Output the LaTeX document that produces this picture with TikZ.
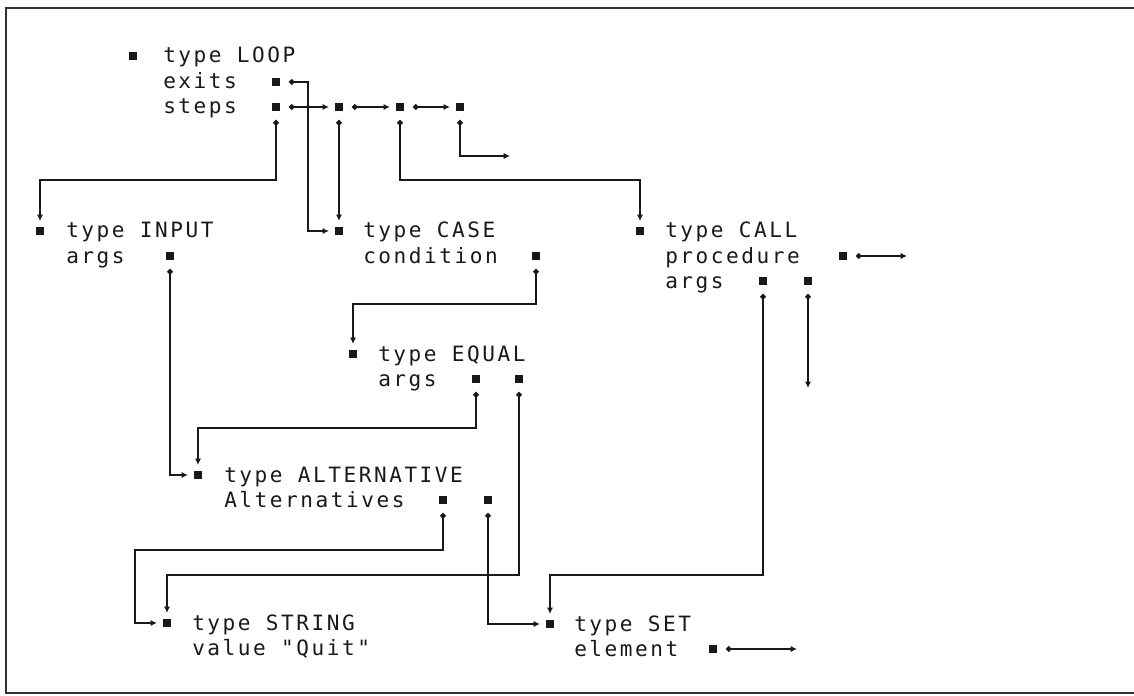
\documentclass[tikz,border=0pt]{standalone}
\usepackage{fontspec}
\newfontfamily\plotfont[LetterSpace=12]{DejaVu Sans Mono}
\usetikzlibrary{positioning,arrows.meta}

\begin{document}
\begin{tikzpicture}[
      x=0.025cm, y=-0.025cm,
      font=\plotfont\fontsize{15}{18}\selectfont,
      ptrcell/.style={fill=black!90, inner sep=0pt, minimum size=6pt},
      lbl/.style={anchor=base west, inner sep=0pt, text=black!90},
      fld/.style={lbl, below=17.8pt of #1, anchor=base west},
      ptr/.style={draw=black!90, line width=1.3pt, {Circle[length=4pt]}-{Latex[length=4.5pt,width=4.5pt]}, shorten <=6pt, shorten >=4pt},
      nilptr/.style={ptr, shorten >=0pt}
  ]
    \useasboundingbox (0,0) rectangle (1134,696);
    \draw[line width=1.8pt, black!80] (1134,8) -- (6,8) -- (6,693) -- (1134,693);

    % LOOP
    \node[ptrcell] (loopM) at (133,56) {};
    \node[lbl] (loopT) at (163,63) {type LOOP};
    \node[fld=loopT.base west] (exitsT) {exits};
    \node[fld=exitsT.base west] (stepsT) {steps};
    \node[ptrcell] (exitsM) at (276,82) {};
    \node[ptrcell] (stepsM) at (276,107) {};
    \node[ptrcell] (s2) at (339,107) {};
    \node[ptrcell] (s3) at (400,107) {};
    \node[ptrcell] (s4) at (460,107) {};
    \coordinate (s4nil) at (510,156);

    % INPUT
    \node[ptrcell] (inputM) at (40,231) {};
    \node[lbl] (inputT) at (66,238) {type INPUT};
    \node[fld=inputT.base west] (inArgsT) {args};
    \node[ptrcell] (inArgsM) at (170,256) {};

    % CASE
    \node[ptrcell] (caseM) at (339,231) {};
    \node[lbl] (caseT) at (363,238) {type CASE};
    \node[fld=caseT.base west] (condT) {condition};
    \node[ptrcell] (condM) at (536,256) {};

    % CALL
    \node[ptrcell] (callM) at (640,231) {};
    \node[lbl] (callT) at (665,238) {type CALL};
    \node[fld=callT.base west] (procT) {procedure};
    \node[fld=procT.base west] (callArgsT) {args};
    \node[ptrcell] (procM) at (843,256) {};
    \node[ptrcell] (callA1) at (763,281) {};
    \node[ptrcell] (callA2) at (808,281) {};
    \coordinate (procnil) at (907,256);
    \coordinate (callA2nil) at (808,388);

    % EQUAL
    \node[ptrcell] (equalM) at (353,354) {};
    \node[lbl] (equalT) at (378,361) {type EQUAL};
    \node[fld=equalT.base west] (eqArgsT) {args};
    \node[ptrcell] (eqA1) at (476,379) {};
    \node[ptrcell] (eqA2) at (519,379) {};

    % ALTERNATIVE
    \node[ptrcell] (altM) at (198,475) {};
    \node[lbl] (altT) at (224,482) {type ALTERNATIVE};
    \node[fld=altT.base west] (altsT) {Alternatives};
    \node[ptrcell] (altA1) at (443,500) {};
    \node[ptrcell] (altA2) at (488,500) {};

    % STRING
    \node[ptrcell] (stringM) at (167,623) {};
    \node[lbl] (stringT) at (192,630) {type STRING};
    \node[fld=stringT.base west] (valueT) {value "Quit"};

    % SET
    \node[ptrcell] (setM) at (550,624) {};
    \node[lbl] (setT) at (574,631) {type SET};
    \node[fld=setT.base west] (elemT) {element};
    \node[ptrcell] (elemM) at (713,649) {};
    \coordinate (elemnil) at (797,649);

    % pointers
    \draw[ptr] (stepsM) -- (s2);
    \draw[ptr] (s2) -- (s3);
    \draw[ptr] (s3) -- (s4);
    \draw[ptr] (stepsM) -- ++(0,73) -| (inputM);
    \draw[ptr] (s2) -- (caseM);
    \draw[ptr] (s3) -- ++(0,73) -| (callM);
    \draw[nilptr] (s4) |- (s4nil);
    \draw[ptr] (exitsM) -- ++(32,0) |- (caseM);
    \draw[ptr] (condM) -- ++(0,48) -| (equalM);
    \draw[ptr] (inArgsM) |- (altM);
    \draw[ptr] (eqA1) -- ++(0,49) -| (altM);
    \draw[ptr] (eqA2) -- ++(0,196) -| (stringM);
    \draw[ptr] (altA1) -- ++(0,50) -- ++(-308,0) |- (stringM);
    \draw[ptr] (altA2) |- (setM);
    \draw[ptr] (callA1) -- ++(0,294) -| (setM);
    \draw[nilptr] (callA2) -- (callA2nil);
    \draw[nilptr] (procM) -- (procnil);
    \draw[nilptr] (elemM) -- (elemnil);
  \end{tikzpicture}
\end{document}
